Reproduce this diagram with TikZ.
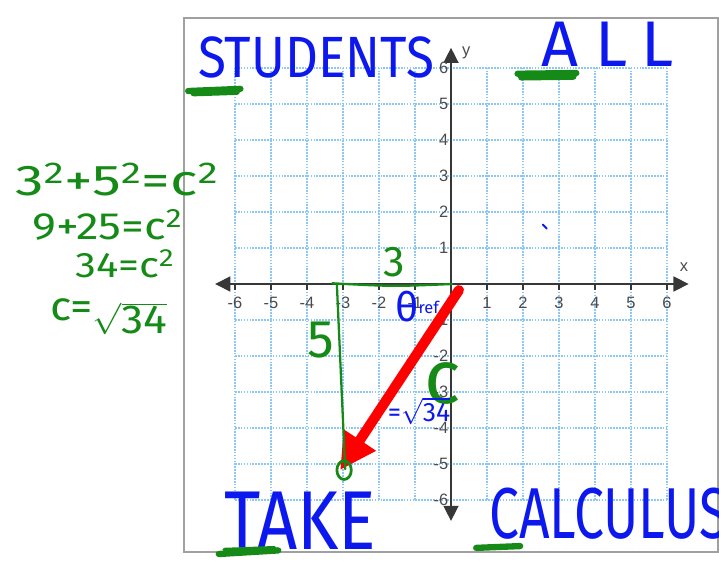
\documentclass[tikz,border=0pt]{standalone}
\usepackage{fontspec}
\setmainfont{Liberation Sans}
\newfontfamily\handfont{Fira Sans}
\usetikzlibrary{arrows.meta}
\definecolor{inkblue}{RGB}{12,24,238}
\definecolor{inkgreen}{RGB}{22,138,22}
\definecolor{inkred}{RGB}{255,0,0}
\definecolor{gridblue}{RGB}{140,200,245}
\definecolor{axisgray}{RGB}{55,55,55}
\definecolor{framegray}{RGB}{160,160,160}
\newcommand\handsize[1]{\handfont\fontsize{#1}{#1}\selectfont}
\tikzset{
  gridline/.style={gridblue, line width=1.3pt, densely dotted},
  axisline/.style={axisgray, line width=1.1pt, >={Triangle[length=0.42cm,width=0.42cm]}, <->},
  ticklabel/.style={font=\fontsize{13}{15}\selectfont, text=axisgray!90, inner sep=0pt},
  ink/.style={inner sep=0pt},
  pen/.style={inkgreen, line width=1.8pt, line cap=round, line join=round},
  scribble/.style={inkgreen, line width=5pt, line cap=round, line join=round},
}
\begin{document}
\begin{tikzpicture}
  \useasboundingbox (-12.528,-7.972) rectangle (7.444,7.889);
  % ---- frame and grid ----
  \draw[framegray, line width=1.3pt] (-7.42,-7.44) rectangle (7.42,7.38);
  \foreach \k in {-6,...,6} {
    \draw[gridline] (\k,-6) -- (\k,6);
    \draw[gridline] (-6,\k) -- (6,\k);
  }

  % ---- axes ----
  \draw[axisline] (-6.55,0) -- (6.6,0);
  \draw[axisline] (0,-6.58) -- (0,6.56);
  \foreach \k in {-6,-5,-4,-3,-2,-1,1,2,3,4,5,6} {
    \draw[axisgray, line width=0.9pt] (\k,0) -- (\k,-0.16);
    \node[ticklabel] (xlab\k) at (\k,-0.53) {\k};
    \node[ticklabel, anchor=east] (ylab\k) at (-0.07,\k) {\k};
  }
  \node[ticklabel] (xname) at (6.47,0.47) {x};
  \node[ticklabel] (yname) at (0.42,6.42) {y};

  % ---- the right triangle ----
  \coordinate (O) at (0.03,0);
  \coordinate (C) at (-3.3,0.02);
  \coordinate (tail) at (0.22,-0.17);
  \coordinate (head) at (-3.08,-5.17);
  \draw[pen] (O) .. controls (-1.6,-0.07) .. (C);
  \draw[inkred, line width=8pt, line cap=round, -{Triangle[length=1.0cm,width=1.0cm]}] (tail) -- (head);
  \draw[pen] (-3.17,-0.02) -- (-2.94,-5.14);
  \draw[pen, line width=2.2pt] (-2.97,-5.17) ellipse (0.2 and 0.26);
  \node[ink, inkgreen, font=\handsize{34}] (legA) at (-1.58,0.62) {3};
  \node[ink, inkgreen, font=\handsize{42}] (legB) at (-3.61,-1.56) {5};
  \node[ink, inkgreen, font=\handsize{60}] (hyp) at (-0.22,-2.75) {c};
  \node[ink, inkblue, font=\handsize{32}] (theta) at (-0.94,-0.62) {θ\raisebox{6pt}{\fontsize{13}{13}\selectfont ref}};
  \node[ink, inkblue, font=\handsize{21}] (hypval) at (-0.89,-3.53) {=$\sqrt{\mbox{34}}$};
  \draw[inkblue, line width=1.6pt, line cap=round] (2.55,1.65) -- (2.66,1.54);

  % ---- words ----
  \node[ink, inkblue, font=\handsize{46}] (students) at (-3.75,6.28) {\scalebox{0.88}[1]{STUDENTS}};
  \node[ink, inkblue, font=\handsize{51}] (all) at (4.35,6.65) {A\kern13pt L\kern11pt L};
  \node[ink, inkblue, font=\handsize{66}] (take) at (-4.19,-6.58) {\scalebox{0.84}[1]{TAKE}};
  \node[ink, inkblue, font=\handsize{57}, anchor=west] (calculus) at (1.06,-6.39) {\scalebox{0.74}[1]{CALCULUS}};
  \draw[scribble] (-7.3,5.36) -- (-5.85,5.42);
  \draw[scribble] (-7.15,5.3) -- (-5.95,5.34);
  \draw[scribble] (1.85,5.84) -- (3.48,5.86);
  \draw[scribble] (1.95,5.74) -- (3.4,5.76);
  \draw[scribble] (-6.45,-7.5) -- (-4.8,-7.4);
  \draw[scribble, line width=3pt] (-6.3,-7.38) -- (-4.9,-7.33);
  \draw[scribble] (0.7,-7.33) -- (1.92,-7.28);

  % ---- working on the left ----
  \node[ink, inkgreen, font=\handsize{34}, anchor=base west] (eqa) at (-12.11,2.47) {\scalebox{1.33}[1]{3\textsuperscript{2}+5\textsuperscript{2}=c\textsuperscript{2}}};
  \node[ink, inkgreen, font=\handsize{30}, anchor=base west] (eqb) at (-11.64,1.25) {\scalebox{1.2}[1]{9+25=c\textsuperscript{2}}};
  \node[ink, inkgreen, font=\handsize{28}, anchor=base west] (eqc) at (-10.44,0.17) {\scalebox{1.18}[1]{34=c\textsuperscript{2}}};
  \node[ink, inkgreen, font=\handsize{32}, anchor=base west] (eqd) at (-11.14,-1.0) {\scalebox{1.1}[1]{c=\raisebox{-11pt}{$\sqrt{\mbox{34}}$}}};
\end{tikzpicture}
\end{document}
